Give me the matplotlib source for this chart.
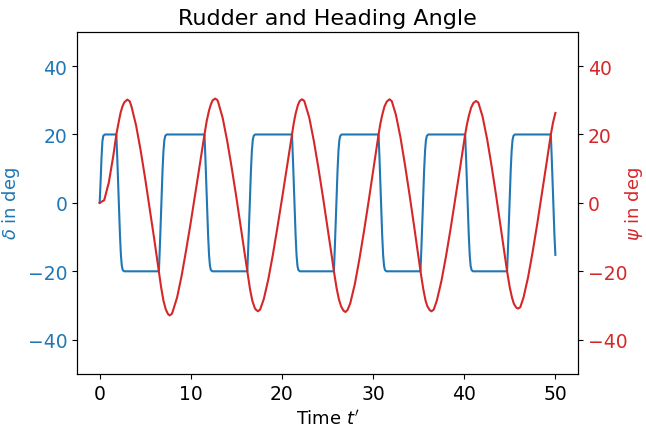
import matplotlib
matplotlib.use("Agg")
import matplotlib.pyplot as plt

# heading angle psi (deg)
t_psi = [0, 0.5, 1.0, 1.5, 1.83, 2.1, 2.3, 2.5, 2.7, 3.03, 3.3,
         3.5, 4.0, 4.5, 5.0, 5.5, 6.0, 6.5, 6.75, 7.0, 7.25, 7.5, 7.68, 7.9,
         8.0, 8.5, 9.0, 9.5, 10.0, 10.5, 11.0, 11.5, 11.75, 12.0, 12.2, 12.4, 12.68, 12.9,
         13.0, 13.5, 14.0, 14.5, 15.0, 15.5, 16.0, 16.2, 16.5, 16.75, 17.0, 17.1, 17.36,
         17.6, 18.0, 18.5, 19.0, 19.5, 20.0, 20.5, 21.0, 21.1, 21.3, 21.5, 21.75, 21.95, 22.2,
         22.45, 23.0, 23.5, 24.0, 24.5, 25.0, 25.5, 25.7, 26.0, 26.25, 26.5, 26.75, 26.97,
         27.2, 27.5, 28.0, 28.5, 29.0, 29.5, 30.0, 30.5, 30.6, 30.8, 31.0, 31.25, 31.5, 31.8,
         32.05, 32.5, 33.0, 33.5, 34.0, 34.5, 35.0, 35.2, 35.5, 35.75, 35.95, 36.2, 36.4,
         36.65, 37.0, 37.5, 38.0, 38.5, 39.0, 39.5, 40.0, 40.1, 40.3, 40.5, 40.75, 41.0, 41.3,
         41.55, 42.0, 42.5, 43.0, 43.5, 44.0, 44.5, 44.7, 45.0, 45.25, 45.45, 45.7, 45.9,
         46.15, 46.5, 47.0, 47.5, 48.0, 48.5, 49.0, 49.5, 49.75, 50.0]
psi = [0, 0.8, 5.9, 13.8, 20, 23.8, 26.4, 28.2, 29.4, 30.2, 29.7,
       28.1, 22.6, 15.3, 7.0, -1.8, -10.8, -20, -24.8, -28.6, -31.1, -32.5, -32.9, -32.5,
       -31.9, -27.6, -21.2, -13.6, -5.6, 2.8, 11.4, 20, 24.0, 27.0, 28.8, 30.0, 30.5, 30.1,
       29.5, 24.8, 18.0, 10.1, 1.6, -7.3, -16.4, -20, -25.3, -28.6, -30.6, -31.1, -31.7,
       -31.2, -28.2, -22.4, -15.2, -7.2, 1.1, 9.7, 18.3, 20, 23.4, 26.1, 28.6, 29.8, 30.3,
       29.8, 24.9, 18.1, 10.2, 1.7, -7.2, -16.2, -20, -25.0, -28.2, -30.3, -31.5, -31.9,
       -31.3, -29.3, -23.7, -16.4, -8.3, 0.3, 9.2, 18.2, 20, 23.2, 25.7, 28.2, 29.6, 30.3,
       29.75, 25.8, 19.2, 11.1, 2.35, -6.8, -16.2, -20, -25.1, -28.5, -30.2, -31.3, -31.7,
       -31.2, -28.5, -22.8, -15.6, -7.6, 0.9, 9.5, 18.2, 20, 23.0, 25.4, 27.8, 29.2, 29.8,
       29.3, 25.35, 18.8, 10.8, 2.1, -7.0, -16.3, -20, -24.8, -27.8, -29.5, -30.6, -30.9,
       -30.5, -27.7, -21.8, -14.4, -6.3, 2.3, 11.1, 20.0, 23.6, 26.3]

# rudder angle delta: start-up, then switches between +20 and -20
t_start = [0, 0.1, 0.2, 0.3, 0.4, 0.55]
d_start = [0, 6, 13, 18, 19.6, 20]
t_switch = [1.83, 6.5, 11.5, 16.2, 21.1, 25.7, 30.6, 35.2, 40.1, 44.7, 49.5]
ramp_dt = [0, 0.1, 0.2, 0.3, 0.4, 0.5, 0.6, 0.7, 0.85]
ramp_frac = [0, 0.17, 0.36, 0.55, 0.74, 0.88, 0.96, 0.99, 1.0]
t_end = 50.0

t_rud = list(t_start)
rud = list(d_start)
level = 20
for ts in t_switch:
    new = -level
    for dt, f in zip(ramp_dt, ramp_frac):
        if ts + dt <= t_end + 1e-9:
            t_rud.append(ts + dt)
            rud.append(level + (new - level) * f)
    level = new

blue = "tab:blue"
red = "tab:red"

fig, ax1 = plt.subplots(figsize=(6.46, 4.27), dpi=100)
fig.subplots_adjust(left=0.119, right=0.895, bottom=0.122, top=0.923)

ax1.plot(t_rud, rud, color=blue, lw=1.5)
ax1.set_ylim(-50, 50)
ax1.set_yticks([-40, -20, 0, 20, 40])
ax1.set_xlabel("Time $t'$", fontsize=13)
ax1.set_ylabel(r"$\delta$ in deg", color=blue, fontsize=13)
ax1.tick_params(axis="y", labelcolor=blue, labelsize=13.5)
ax1.tick_params(axis="x", labelsize=13.5)

ax2 = ax1.twinx()
ax2.plot(t_psi, psi, color=red, lw=1.5)
ax2.set_ylim(-50, 50)
ax2.set_yticks([-40, -20, 0, 20, 40])
ax2.set_ylabel(r"$\psi$ in deg", color=red, fontsize=13)
ax2.yaxis.set_label_coords(1.09, 0.5)
ax2.tick_params(axis="y", labelcolor=red, labelsize=13.5)

ax1.set_title("Rudder and Heading Angle", fontsize=16)

fig.savefig("out.png", dpi=100)
